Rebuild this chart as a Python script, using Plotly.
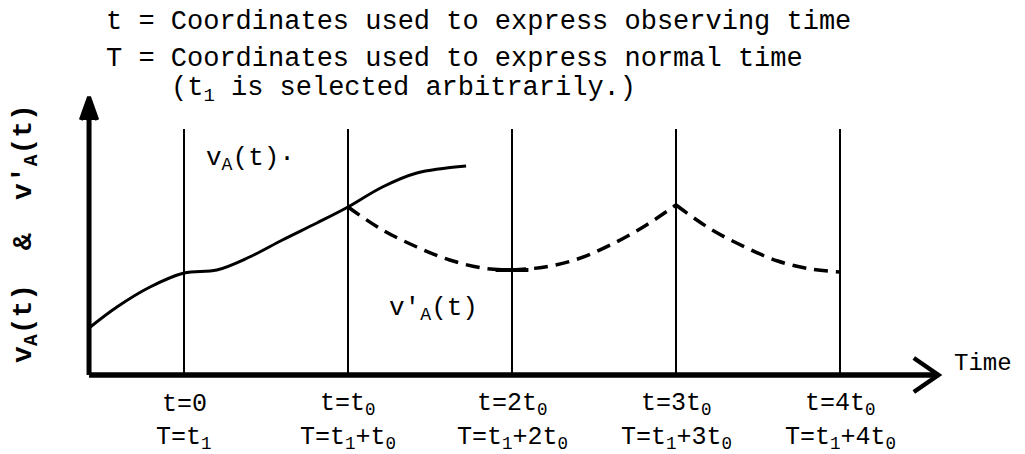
import plotly.graph_objects as go

# ---- data (x in units of t0, t=0 at 0; y arbitrary velocity units) ----
va_x = [-0.579, -0.409, -0.207, 0.0, 0.2, 0.4, 0.6, 0.81, 1.0, 1.21, 1.42, 1.72]
va_y = [0.47, 0.68, 0.88, 1.02, 1.05, 1.18, 1.35, 1.52, 1.68, 1.88, 2.02, 2.09]

# v'A(t) pieces between the observing instants
vpa1_x = [1.0, 1.21, 1.42, 1.62, 1.82, 2.0]
vpa1_y = [1.68, 1.45, 1.28, 1.15, 1.07, 1.05]
vpa2_x = [2.0, 2.2, 2.4, 2.6, 2.8, 3.0]
vpa2_y = [1.05, 1.08, 1.16, 1.30, 1.48, 1.70]
vpa3_x = [3.0, 3.21, 3.42, 3.62, 3.82, 4.0]
vpa3_y = [1.70, 1.46, 1.28, 1.14, 1.06, 1.03]

flat_x = [1.9, 2.1]
flat_y = [1.05, 1.05]

tick_pos = [0, 1, 2, 3, 4]
t_labels = ["t=0", "t=t<sub>0</sub>", "t=2t<sub>0</sub>", "t=3t<sub>0</sub>", "t=4t<sub>0</sub>"]
T_labels = ["T=t<sub>1</sub>", "T=t<sub>1</sub>+t<sub>0</sub>", "T=t<sub>1</sub>+2t<sub>0</sub>",
            "T=t<sub>1</sub>+3t<sub>0</sub>", "T=t<sub>1</sub>+4t<sub>0</sub>"]
vline_top = 2.46

axis_x0 = -0.579
axis_x1 = 4.6
axis_ytop = 2.78

header = ["t = Coordinates used to express observing time",
          "T = Coordinates used to express normal time",
          "(t<sub>1</sub> is selected arbitrarily.)"]

FONT = "Liberation Mono"
fig = go.Figure()

# vertical lines
for p in tick_pos:
    fig.add_trace(go.Scatter(x=[p, p], y=[0, vline_top], mode="lines",
                             line=dict(color="black", width=2), showlegend=False, hoverinfo="skip"))

# curves
fig.add_trace(go.Scatter(x=va_x, y=va_y, mode="lines", line=dict(color="black", width=3, shape="spline"),
                         showlegend=False))
for sx, sy in [(vpa1_x, vpa1_y), (vpa2_x, vpa2_y), (vpa3_x, vpa3_y)]:
    fig.add_trace(go.Scatter(x=sx, y=sy, mode="lines",
                             line=dict(color="black", width=3.5, dash="14px,8px", shape="spline"),
                             showlegend=False))
fig.add_trace(go.Scatter(x=flat_x, y=flat_y, mode="lines", line=dict(color="black", width=4), showlegend=False))

# axes with arrows
fig.add_trace(go.Scatter(x=[axis_x0, axis_x1], y=[0, 0], mode="lines",
                         line=dict(color="black", width=5.5), showlegend=False))
fig.add_trace(go.Scatter(x=[axis_x0, axis_x0], y=[0, axis_ytop - 0.05], mode="lines",
                         line=dict(color="black", width=5), showlegend=False))
fig.add_trace(go.Scatter(x=[axis_x1 - 0.15, axis_x1, axis_x1 - 0.15], y=[0.17, 0, -0.17], mode="lines",
                         line=dict(color="black", width=4.5), showlegend=False))
fig.add_trace(go.Scatter(x=[axis_x0 - 0.05, axis_x0, axis_x0 + 0.05], y=[axis_ytop - 0.23, axis_ytop, axis_ytop - 0.23],
                         mode="lines", fill="toself", fillcolor="black",
                         line=dict(color="black", width=4), showlegend=False))

ann = []
for p, tl, Tl in zip(tick_pos, t_labels, T_labels):
    ann.append(dict(x=p, y=-0.29, text=tl, showarrow=False, xanchor="center", yanchor="middle",
                    font=dict(family=FONT, size=25, color="black")))
    ann.append(dict(x=p, y=-0.63, text=Tl, showarrow=False, xanchor="center", yanchor="middle",
                    font=dict(family=FONT, size=25, color="black")))

ann.append(dict(x=-0.49, y=3.53, text=header[0], showarrow=False, xanchor="left", yanchor="middle",
                height=28, font=dict(family=FONT, size=27, color="black")))
ann.append(dict(x=-0.49, y=3.16, text=header[1], showarrow=False, xanchor="left", yanchor="middle",
                font=dict(family=FONT, size=27, color="black")))
ann.append(dict(x=-0.09, y=2.855, text=header[2], showarrow=False, xanchor="left", yanchor="middle",
                font=dict(family=FONT, size=27, color="black")))

ann.append(dict(x=0.12, y=2.16, text="v<sub>A</sub>(t)·", showarrow=False, xanchor="left", yanchor="middle",
                font=dict(family=FONT, size=26, color="black")))
ann.append(dict(x=1.24, y=0.66, text="v'<sub>A</sub>(t)", showarrow=False, xanchor="left", yanchor="middle",
                font=dict(family=FONT, size=26, color="black")))
ann.append(dict(x=4.68, y=0.12, text="Time", showarrow=False, xanchor="left", yanchor="middle",
                font=dict(family=FONT, size=24, color="black")))
ann.append(dict(x=-0.97, y=1.42, text="<b>v<sub>A</sub>(t)  &  v'<sub>A</sub>(t)</b>", showarrow=False,
                textangle=-90, xanchor="center", yanchor="middle",
                font=dict(family=FONT, size=28, color="black")))

# page has an 8px body margin: figure occupies page pixels 8..1025 x 8..454
fig.update_layout(width=1017, height=446, margin=dict(l=0, r=0, t=0, b=0),
                  paper_bgcolor="white", plot_bgcolor="white", annotations=ann, autosize=False)
fig.update_xaxes(range=[(8 - 184) / 164, (1025 - 184) / 164], visible=False, fixedrange=True)
fig.update_yaxes(range=[(375 - 454) / 100, (375 - 8) / 100], visible=False, fixedrange=True)

fig.write_html("out.html")
